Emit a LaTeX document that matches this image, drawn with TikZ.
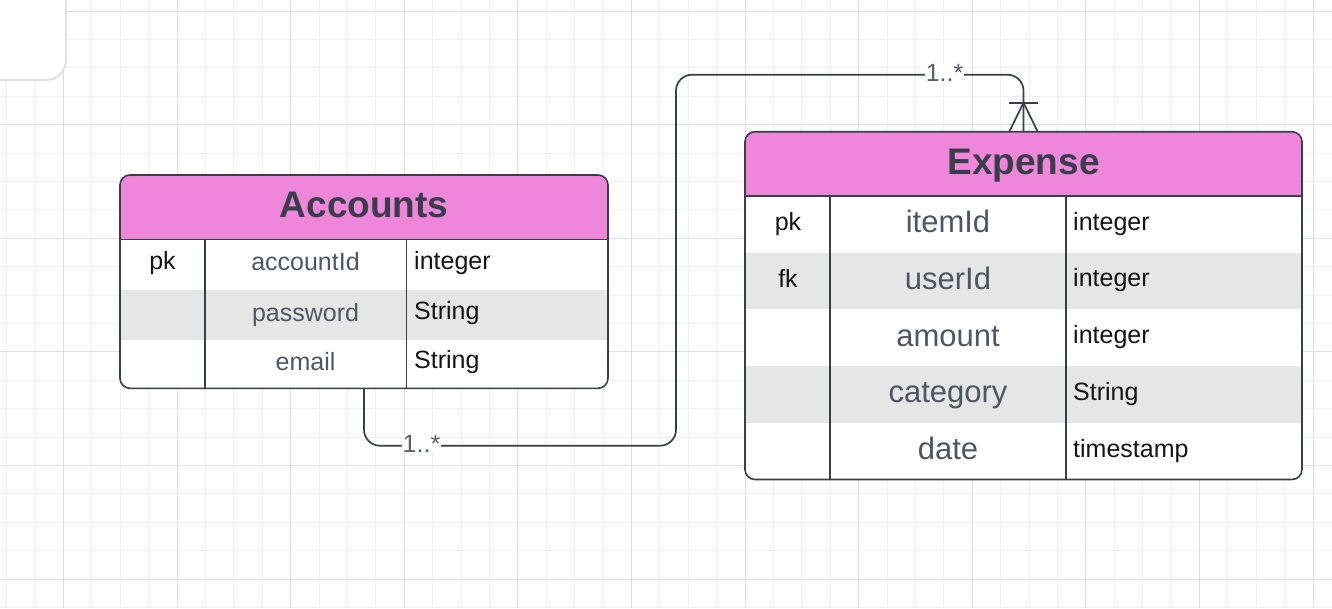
\documentclass[tikz,border=0pt]{standalone}
\usepackage{fontspec}
\setmainfont{Liberation Sans}
\definecolor{gridminor}{RGB}{239,239,239}
\definecolor{gridmajor}{RGB}{222,222,222}
\definecolor{boxedge}{RGB}{223,225,230}
\definecolor{hdrpink}{RGB}{238,134,218}
\definecolor{rowgrey}{RGB}{230,230,230}
\definecolor{stroke}{RGB}{58,61,74}
\definecolor{titletxt}{RGB}{58,61,74}
\definecolor{nametxt}{RGB}{80,85,98}
\definecolor{typetxt}{RGB}{20,20,20}
\definecolor{lbltxt}{RGB}{90,95,108}
\begin{document}
\begin{tikzpicture}[x=1pt,y=-1pt,
  tbl/.style={draw=stroke,line width=1.6pt,rounded corners=10pt,inner sep=0pt},
  sep/.style={draw=stroke,line width=1.6pt},
  conn/.style={draw=stroke,line width=1.7pt},
  ttl/.style={font=\fontsize{37}{40}\selectfont\bfseries,text=titletxt,anchor=base,inner sep=0pt},
  nmA/.style={font=\fontsize{25}{28}\selectfont,text=nametxt,anchor=base,inner sep=0pt},
  nmE/.style={font=\fontsize{31}{34}\selectfont,text=nametxt,anchor=base,inner sep=0pt},
  typ/.style={font=\fontsize{25}{28}\selectfont,text=typetxt,anchor=base west,inner sep=0pt},
  key/.style={font=\fontsize{25}{28}\selectfont,text=typetxt,anchor=base,inner sep=0pt},
  lbl/.style={font=\fontsize{25}{28}\selectfont,text=lbltxt,fill=white,inner xsep=1pt,inner ysep=0pt}]
\useasboundingbox (0,0) rectangle (1332,608);
\fill[white] (0,0) rectangle (1332,608);
% grid
\foreach \i in {0,...,46} \draw[gridminor,line width=1pt] ({6.6+28.4*\i},0) -- ({6.6+28.4*\i},608);
\foreach \j in {0,...,21} \draw[gridminor,line width=1pt] (0,{11+28.4*\j}) -- (1332,{11+28.4*\j});
\foreach \i in {0,...,11} \draw[gridmajor,line width=1pt] ({63.4+113.6*\i},0) -- ({63.4+113.6*\i},608);
\foreach \j in {0,...,5} \draw[gridmajor,line width=1pt] (0,{11+113.6*\j}) -- (1332,{11+113.6*\j});
% partial box top-left
\draw[boxedge,line width=2pt,rounded corners=20pt,fill=white] (-40,-40) rectangle (66,80);

% ---------- Accounts ----------
\begin{scope}
\clip[rounded corners=10pt] (120,175) rectangle (608,388.3);
\fill[hdrpink] (120,175) rectangle (608,239.3);
\fill[white] (120,239.3) rectangle (608,388.3);
\fill[rowgrey] (120,289.7) rectangle (608,340);
\end{scope}
\node[tbl,minimum width=488pt,minimum height=213.3pt] (acc) at (364,281.65) {};
\draw[sep] (120,239.3) -- (608,239.3);
\draw[sep] (205,239.3) -- (205,388.3);
\draw[sep] (406.3,239.3) -- (406.3,388.3);
\node[ttl] (accT) at (364,217.7) {Accounts};
\node[key] (accK1) at (162.5,269) {pk};
\node[nmA] (accN1) at (305.5,270.8) {accountId};
\node[nmA] (accN2) at (305.5,321.2) {password};
\node[nmA] (accN3) at (305.5,370.5) {email};
\node[typ] (accY1) at (414,269) {integer};
\node[typ] (accY2) at (414,319.3) {String};
\node[typ] (accY3) at (414,368.6) {String};

% ---------- Expense ----------
\begin{scope}
\clip[rounded corners=10pt] (745,131.7) rectangle (1302,479.5);
\fill[hdrpink] (745,131.7) rectangle (1302,195.7);
\fill[white] (745,195.7) rectangle (1302,479.5);
\fill[rowgrey] (745,252.5) rectangle (1302,309.3);
\fill[rowgrey] (745,366.1) rectangle (1302,422.9);
\end{scope}
\node[tbl,minimum width=557pt,minimum height=347.8pt] (exp) at (1023.5,305.6) {};
\draw[sep] (745,195.7) -- (1302,195.7);
\draw[sep] (830,195.7) -- (830,479.5);
\draw[sep] (1066,195.7) -- (1066,479.5);
\node[ttl] (expT) at (1023.5,174.3) {Expense};
\node[key] (expK1) at (788,230.5) {pk};
\node[key] (expK2) at (788,287.3) {fk};
\node[nmE] (expN1) at (948,232.5) {itemId};
\node[nmE] (expN2) at (948,289.3) {userId};
\node[nmE] (expN3) at (948,346.1) {amount};
\node[nmE] (expN4) at (948,402.9) {category};
\node[nmE] (expN5) at (948,459.7) {date};
\node[typ] (expY1) at (1073,230) {integer};
\node[typ] (expY2) at (1073,286.8) {integer};
\node[typ] (expY3) at (1073,343.6) {integer};
\node[typ] (expY4) at (1073,400.4) {String};
\node[typ] (expY5) at (1073,457.2) {timestamp};

% ---------- connector ----------
\coordinate (c1) at (364,445.7);
\coordinate (c2) at (676,445.7);
\coordinate (c3) at (676,74.7);
\coordinate (c4) at (1023.5,74.7);
\draw[conn,rounded corners=16pt] (acc.south) -- (c1) -- (c2) -- (c3) -- (c4) -- (exp.north);
% crow's foot (one or many)
\coordinate (cfA) at (1023.5,102.7);
\coordinate (cfL) at (1009.3,131.7);
\coordinate (cfR) at (1037.7,131.7);
\coordinate (barL) at (1009,102.7);
\coordinate (barR) at (1038,102.7);
\draw[conn] (barL) -- (barR);
\draw[conn] (cfL) -- (cfA) -- (cfR);
\node[lbl] (lab1) at (421.5,443.8) {1..*};
\node[lbl] (lab2) at (944.5,72.8) {1..*};
\end{tikzpicture}
\end{document}
